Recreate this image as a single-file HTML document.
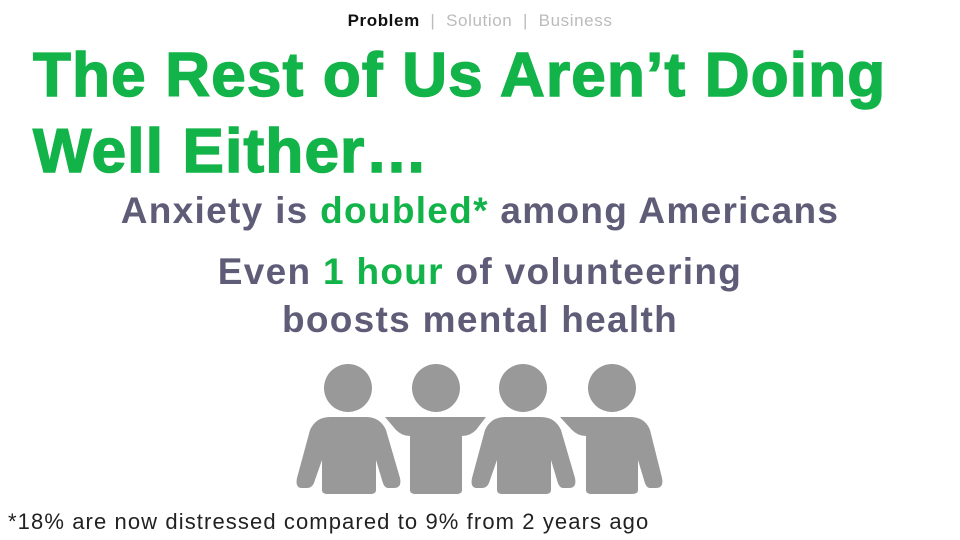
<!DOCTYPE html>
<html><head><meta charset="utf-8"><style>
body{margin:0;width:960px;height:540px;background:#fff;position:relative;overflow:hidden;font-family:"Liberation Sans",sans-serif}
.a{position:absolute}
</style></head><body>
<div class="a" style="top:11px;left:0;width:960px;text-align:center;font-size:17px;letter-spacing:0.6px;color:#bbb">
<span style="color:#111;font-weight:bold">Problem</span> &nbsp;|&nbsp; <span>Solution</span> &nbsp;|&nbsp; <span>Business</span></div>
<div class="a" style="left:33px;top:38px;width:940px;font-size:62px;line-height:76px;font-weight:bold;color:#12b348;letter-spacing:1.2px;-webkit-text-stroke:1.5px #12b348">The Rest of Us Aren’t Doing<br>Well Either…</div>
<div class="a" style="left:0;top:190px;width:960px;text-align:center;font-size:37px;letter-spacing:1.3px;font-weight:bold;color:#5f5c78">Anxiety is <span style="color:#12b348">doubled*</span> among Americans</div>
<div class="a" style="left:0;top:248px;width:960px;text-align:center;font-size:37px;letter-spacing:1.3px;line-height:48px;font-weight:bold;color:#5f5c78">Even <span style="color:#12b348">1 hour</span> of volunteering<br>boosts mental health</div>
<svg class="a" style="left:0;top:0" width="960" height="540">
<g fill="#999">
<circle cx="348" cy="388" r="24"/><circle cx="436" cy="388" r="24"/><circle cx="523" cy="388" r="24"/><circle cx="612" cy="388" r="24"/>
<path d="M330 417 L366 417 Q380 417 386 430 L400 478 Q402 488 394 488 L388 488 Q384 488 382 480 L376 460 L376 490 Q376 494 370 494 L328 494 Q322 494 322 490 L322 460 L315 480 Q313 488 307 488 L302 488 Q295 488 297 478 L310 430 Q316 417 330 417 Z"/>
<path d="M385 417 L486 417 L476 430 Q470 436 462 436 L462 490 Q462 494 456 494 L416 494 Q410 494 410 490 L410 436 Q402 436 396 430 Z"/>
<path transform="translate(175 0)" d="M330 417 L366 417 Q380 417 386 430 L400 478 Q402 488 394 488 L388 488 Q384 488 382 480 L376 460 L376 490 Q376 494 370 494 L328 494 Q322 494 322 490 L322 460 L315 480 Q313 488 307 488 L302 488 Q295 488 297 478 L310 430 Q316 417 330 417 Z"/>
<path d="M560 417 L630 417 Q645 417 650 430 L662 478 Q664 488 656 488 L650 488 Q646 488 644 480 L638 460 L638 490 Q638 494 632 494 L592 494 Q586 494 586 490 L586 436 Q578 436 572 430 Z"/>
</g></svg>
<div class="a" style="left:8px;top:509px;font-size:22px;letter-spacing:1.1px;color:#222">*18% are now distressed compared to 9% from 2 years ago</div>
</body></html>
